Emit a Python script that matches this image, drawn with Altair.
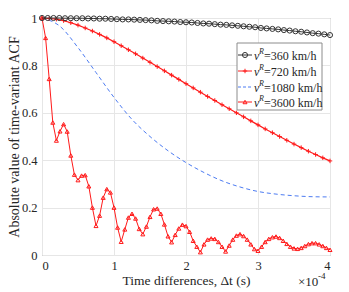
import altair as alt
import pandas as pd

# ---- data (x in units of 1e-4 s) ----
x360 = [round(0.08 * i, 2) for i in range(51)]
v360 = [1.000, 1.000, 1.000, 1.000, 0.999, 0.999, 0.999, 0.999, 0.998, 0.998,
        0.997, 0.997, 0.996, 0.995, 0.994, 0.994, 0.993, 0.992, 0.991, 0.990,
        0.988, 0.987, 0.986, 0.985, 0.983, 0.982, 0.981, 0.979, 0.977, 0.976,
        0.974, 0.972, 0.971, 0.969, 0.967, 0.965, 0.963, 0.961, 0.958, 0.956,
        0.954, 0.952, 0.949, 0.947, 0.944, 0.942, 0.939, 0.936, 0.934, 0.931,
        0.928]

x720 = [round(0.1 * i, 2) for i in range(41)]
v720 = [1.000, 0.998, 0.995, 0.989, 0.980, 0.970, 0.958, 0.945, 0.931, 0.916,
        0.900, 0.883, 0.866, 0.849, 0.831, 0.813, 0.795, 0.777, 0.759, 0.741,
        0.723, 0.705, 0.687, 0.669, 0.652, 0.634, 0.617, 0.600, 0.583, 0.566,
        0.549, 0.532, 0.516, 0.500, 0.484, 0.468, 0.453, 0.438, 0.424, 0.410,
        0.397]

x1080 = [0, 0.25, 0.5, 0.75, 1.0, 1.25, 1.5, 1.75, 2.0, 2.25, 2.5, 2.75, 3.0,
         3.25, 3.5, 3.75, 4.0]
v1080 = [1.0, 0.965, 0.875, 0.77, 0.665, 0.572, 0.50, 0.44, 0.39, 0.348, 0.313,
         0.287, 0.268, 0.257, 0.25, 0.246, 0.245]

x3600 = [round(0.05 * i, 2) for i in range(81)]
v3600 = [1.0, 0.916, 0.743, 0.559, 0.483, 0.522, 0.552, 0.521, 0.42, 0.339,
         0.316, 0.335, 0.337, 0.29, 0.2, 0.123, 0.166, 0.242, 0.278, 0.264,
         0.2, 0.116, 0.056, 0.108, 0.158, 0.174, 0.154, 0.11, 0.088, 0.12,
         0.161, 0.193, 0.196, 0.174, 0.129, 0.079, 0.054, 0.085, 0.112, 0.128,
         0.122, 0.098, 0.06, 0.035, 0.012, 0.045, 0.065, 0.07, 0.068, 0.055,
         0.035, 0.015, 0.04, 0.065, 0.082, 0.088, 0.08, 0.065, 0.045, 0.025,
         0.018, 0.035, 0.055, 0.068, 0.075, 0.078, 0.072, 0.06, 0.047, 0.035,
         0.028, 0.026, 0.03, 0.038, 0.046, 0.05, 0.05, 0.045, 0.038, 0.03,
         0.022]

legend_labels = ["=360 km/h", "=720 km/h", "=1080 km/h", "=3600 km/h"]
x_ticks = [0, 1, 2, 3, 4]
y_ticks = [0, 0.2, 0.4, 0.6, 0.8, 1.0]

FONT = "Liberation Serif"
W, H = 288, 237
RED = "#ff1a1a"
BLUE = "#4d7cf2"
BLACK = "#333333"
TXT = "#262626"

xs = alt.Scale(domain=[0, 4], nice=False)
ys = alt.Scale(domain=[0, 1], nice=False)

XAX = alt.Axis(values=x_ticks, title="Time differences, \u0394t (s)",
               grid=True, gridColor="#e6e6e6", ticks=False,
               domain=False, labelPadding=4, titlePadding=2,
               labelFontSize=12.5, titleFontSize=13.5,
               labelFont=FONT, titleFont=FONT,
               labelColor=TXT, titleColor=TXT,
               titleFontWeight="normal", format="d")
YAX = alt.Axis(values=y_ticks, title="Absolute value of time-variant ACF",
               grid=True, gridColor="#e6e6e6", ticks=False,
               domain=False, labelPadding=5, titlePadding=0,
               labelFontSize=12.5, titleFontSize=14,
               labelFont=FONT, titleFont=FONT,
               labelColor=TXT, titleColor=TXT,
               titleFontWeight="normal", format="~g")

def X():
    return alt.X("x:Q", scale=xs, axis=XAX)

def Y():
    return alt.Y("v:Q", scale=ys, axis=YAX)

d360 = pd.DataFrame({"x": x360, "v": v360})
d720 = pd.DataFrame({"x": x720, "v": v720})
d1080 = pd.DataFrame({"x": x1080, "v": v1080})
d3600 = pd.DataFrame({"x": x3600, "v": v3600})

plus_path = "M-1,0L1,0M0,-1L0,1"

layers = [
    alt.Chart(d1080).mark_line(color=BLUE, strokeWidth=1, strokeDash=[4, 3],
                               interpolate="monotone").encode(x=X(), y=Y()),
    alt.Chart(d3600).mark_line(color=RED, strokeWidth=1).encode(x=X(), y=Y()),
    alt.Chart(d3600).mark_point(shape="triangle-up", filled=False, color=RED,
                                size=16, strokeWidth=1, opacity=1).encode(x=X(), y=Y()),
    alt.Chart(d720).mark_line(color=RED, strokeWidth=1.2).encode(x=X(), y=Y()),
    alt.Chart(d720).mark_point(shape=plus_path, filled=False, color=RED,
                               size=20, strokeWidth=1, opacity=1).encode(x=X(), y=Y()),
    alt.Chart(d360).mark_line(color=BLACK, strokeWidth=1).encode(x=X(), y=Y()),
    alt.Chart(d360).mark_point(shape="circle", filled=False, color=BLACK,
                               size=26, strokeWidth=1, opacity=1).encode(x=X(), y=Y()),
]

# x10^-4 exponent label
layers.append(alt.Chart(pd.DataFrame({"t": ["\u00d710"]})).mark_text(
    font=FONT, fontSize=13, color=TXT, align="left", baseline="alphabetic")
    .encode(x=alt.value(256), y=alt.value(268), text="t:N"))
layers.append(alt.Chart(pd.DataFrame({"t": ["-4"]})).mark_text(
    font=FONT, fontSize=9, color=TXT, align="left", baseline="alphabetic")
    .encode(x=alt.value(276), y=alt.value(261), text="t:N"))

# legend box
layers.append(alt.Chart(pd.DataFrame({"a": [0]})).mark_rect(fill="white", stroke="#8c8c8c",
                                                           strokeWidth=1)
              .encode(x=alt.value(195), x2=alt.value(280), y=alt.value(25), y2=alt.value(92)))

entry_y = [37, 53, 69, 84]
colors = [BLACK, RED, BLUE, RED]
for i, lab in enumerate(legend_labels):
    yy = entry_y[i]
    one = pd.DataFrame({"t": [lab]})
    rule = alt.Chart(one).mark_rule(color=colors[i], strokeWidth=1,
                                    strokeDash=[3, 2] if i == 2 else [1, 0])
    layers.append(rule.encode(x=alt.value(196), x2=alt.value(210), y=alt.value(yy)))
    if i != 2:
        shp = ["circle", plus_path, None, "triangle-up"][i]
        sz = [26, 20, 0, 16][i]
        layers.append(alt.Chart(one).mark_point(shape=shp, filled=False, color=colors[i],
                                                size=sz, strokeWidth=1, opacity=1)
                      .encode(x=alt.value(203), y=alt.value(yy)))
    layers.append(alt.Chart(pd.DataFrame({"t": ["v"]})).mark_text(
        font=FONT, fontSize=12, fontStyle="italic", color=TXT, align="left", baseline="middle")
        .encode(x=alt.value(212), y=alt.value(yy + 1), text="t:N"))
    layers.append(alt.Chart(pd.DataFrame({"t": ["R"]})).mark_text(
        font=FONT, fontSize=8, fontStyle="italic", color=TXT, align="left", baseline="middle")
        .encode(x=alt.value(217), y=alt.value(yy - 3), text="t:N"))
    layers.append(alt.Chart(one).mark_text(font=FONT, fontSize=12, color=TXT,
                                           align="left", baseline="middle")
                  .encode(x=alt.value(222), y=alt.value(yy + 1), text="t:N"))

chart = alt.layer(*layers).properties(
    width=W, height=H,
    background="white",
    autosize=alt.AutoSizeParams(type="none"),
    padding={"left": 34, "top": 10, "right": 10, "bottom": 40},
).configure_view(stroke="#8c8c8c", strokeWidth=1
).configure_axis(labelFont=FONT, titleFont=FONT)

chart.save("out.html", embed_options={"renderer": "svg", "actions": False})
